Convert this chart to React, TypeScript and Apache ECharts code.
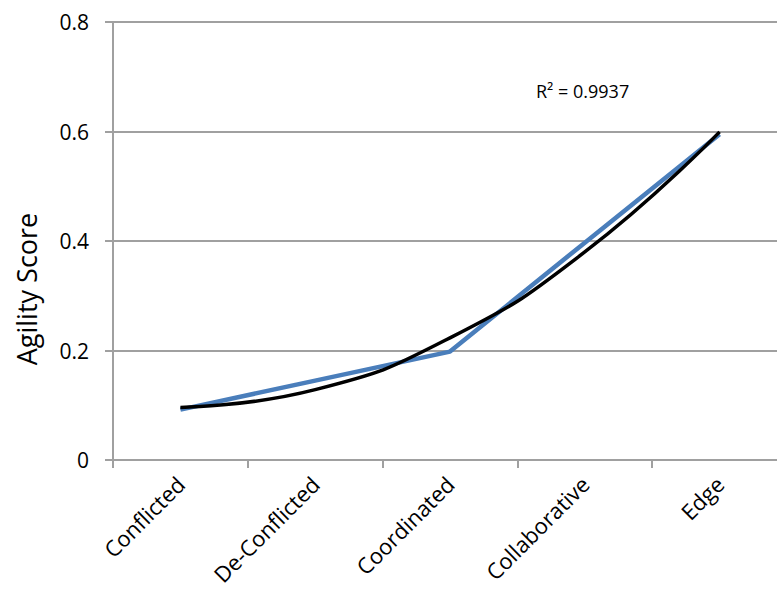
import React, { useEffect, useRef } from "react";
import * as echarts from "echarts";

const categories = ["Conflicted", "De-Conflicted", "Coordinated", "Collaborative", "Edge"];
const agilityValues = [0.092, 0.145, 0.198, 0.397, 0.595];
const yTicks = [0, 0.2, 0.4, 0.6, 0.8];
const r2Label = "R² = 0.9937";
const yAxisTitle = "Agility Score";

// Order-2 polynomial least-squares trendline fitted to the series values
function polyFit2(ys: number[]): number[] {
  const n = ys.length;
  const xs = ys.map((_, i) => i + 1);
  const mx = xs.reduce((a, b) => a + b, 0) / n;
  const p1 = xs.map((x) => x - mx);
  const v = p1.reduce((a, b) => a + b * b, 0) / n;
  const p2 = p1.map((d) => d * d - v);
  const my = ys.reduce((a, b) => a + b, 0) / n;
  const b1 = p1.reduce((a, d, i) => a + d * ys[i], 0) / p1.reduce((a, d) => a + d * d, 0);
  const b2 = p2.reduce((a, d, i) => a + d * ys[i], 0) / p2.reduce((a, d) => a + d * d, 0);
  return xs.map((_, i) => my + b1 * p1[i] + b2 * p2[i]);
}

const FONT = "Open Sans";

export default function App() {
  const ref = useRef<HTMLDivElement>(null);
  useEffect(() => {
    if (!ref.current) return;
    const chart = echarts.init(ref.current, null, { renderer: "svg" });
    const trend = polyFit2(agilityValues);
    chart.setOption({
      animation: false,
      backgroundColor: "#ffffff",
      grid: {
        left: 113,
        top: 22,
        width: 674,
        height: 438,
        containLabel: false,
        outerBoundsMode: "none",
      },
      xAxis: {
        type: "category",
        data: categories,
        boundaryGap: true,
        axisLine: { show: true, lineStyle: { color: "#a0a0a0", width: 2 } },
        axisTick: { show: true, length: 8, lineStyle: { color: "#a0a0a0", width: 2 } },
        axisLabel: {
          rotate: 45,
          margin: 20,
          color: "#000",
          fontFamily: FONT,
          fontSize: 22,
        },
        splitLine: { show: false },
      },
      yAxis: {
        type: "value",
        min: 0,
        max: 0.8,
        interval: 0.2,
        axisLine: { show: true, lineStyle: { color: "#a0a0a0", width: 2 } },
        axisTick: { show: true, length: 8, lineStyle: { color: "#a0a0a0", width: 2 } },
        axisLabel: {
          margin: 24,
          color: "#000",
          fontFamily: FONT,
          fontSize: 21,
          formatter: (v: number) => {
            const t = yTicks.find((y) => Math.abs(y - v) < 1e-9);
            return t === 0 ? "0" : String(t ?? v);
          },
        },
        splitLine: { show: true, lineStyle: { color: "#a0a0a0", width: 2 } },
      },
      series: [
        {
          name: "Agility Score",
          type: "line",
          data: agilityValues,
          symbol: "none",
          lineStyle: { color: "#4a7ebb", width: 4.5 },
          z: 2,
        },
        {
          name: "Trend",
          type: "line",
          data: trend,
          symbol: "none",
          smooth: 0.5,
          lineStyle: { color: "#000000", width: 3.5 },
          z: 3,
        },
      ],
      graphic: [
        {
          type: "text",
          x: 536,
          y: 91,
          style: {
            text: r2Label,
            fill: "#000",
            fontFamily: FONT,
            fontSize: 18,
            verticalAlign: "middle",
          },
        },
        {
          type: "text",
          x: 26,
          y: 289,
          rotation: Math.PI / 2,
          style: {
            text: yAxisTitle,
            fill: "#000",
            fontFamily: FONT,
            fontSize: 27,
            align: "center",
            verticalAlign: "middle",
          },
        },
      ],
    });
    return () => chart.dispose();
  }, []);
  return (
    <div style={{ position: "fixed", left: 0, top: 0, width: 777, height: 596, overflow: "hidden", background: "#fff" }}>
      <div ref={ref} style={{ width: 800, height: 596 }} />
    </div>
  );
}
